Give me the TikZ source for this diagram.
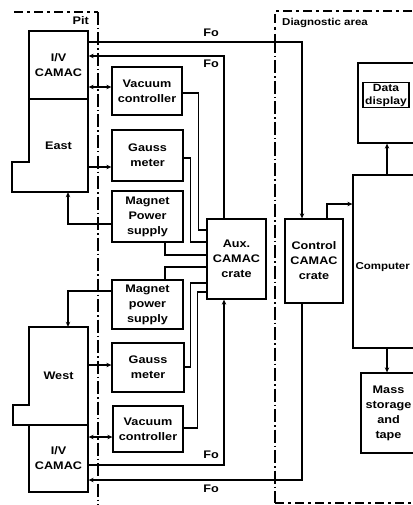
\documentclass[tikz,border=0pt]{standalone}
\usepackage{fontspec}
\newfontfamily\lblfont[FakeStretch=1.15]{Liberation Sans}
\usetikzlibrary{arrows.meta}
\tikzset{
  unit/.style={draw,line width=1.3pt,align=center,inner sep=1pt,
    font=\lblfont\bfseries\fontsize{11}{15}\selectfont},
  region/.style={align=center,inner sep=0pt,
    font=\lblfont\bfseries\fontsize{11}{15}\selectfont},
  outline/.style={line width=1.3pt,line join=miter},
  wire/.style={line width=1.2pt},
  flow/.style={wire,-{Stealth[length=5pt,width=4.5pt]}},
  both/.style={wire,{Stealth[length=5pt,width=4.5pt]}-{Stealth[length=5pt,width=4.5pt]}},
  fo/.style={font=\lblfont\bfseries\fontsize{11}{13}\selectfont,inner sep=0pt},
  wall/.style={line width=1.1pt,dash pattern=on 13pt off 3pt on 1.5pt off 3pt},
  border/.style={line width=1.1pt,dash pattern=on 9pt off 4pt on 3pt off 4pt}
}
\begin{document}
\begin{tikzpicture}[x=1pt,y=-1pt]
  \useasboundingbox (0,0) rectangle (412,505);

  % area boundaries
  \draw[border] (14,12) -- (98,12);
  \draw[wall] (98,12) -- (98,505);
  \node[fo,anchor=east] (pit) at (89,21) {Pit};
  \draw[border] (412,11) -- (275,11) -- (275,40);
  \draw[wall] (275,40) -- (275,503);
  \draw[border] (275,503) -- (412,503);
  \node[fo,anchor=west,font=\lblfont\bfseries\fontsize{10}{12}\selectfont] (diag) at (282,23) {Diagnostic area};

  % pit, east side
  \node[unit,minimum width=59pt,minimum height=68pt] (ivu) at (58.5,65) {I/V\\CAMAC};
  \draw[outline] (29,99) -- (29,162) -- (12,162) -- (12,192) -- (88,192) -- (88,99);
  \node[region,minimum width=59pt,minimum height=93pt] (east) at (58.5,145.5) {East};

  \node[unit,minimum width=70pt,minimum height=48pt] (vcu) at (147,91) {Vacuum\\controller};
  \node[unit,minimum width=71pt,minimum height=51pt] (gmu) at (147.5,155.5) {Gauss\\meter};
  \node[unit,minimum width=71pt,minimum height=51pt] (mpu) at (147.5,216.5) {Magnet\\Power\\supply};

  % pit, west side
  \node[unit,minimum width=71pt,minimum height=49pt] (mpl) at (147.5,304.5) {Magnet\\power\\supply};
  \node[unit,minimum width=72pt,minimum height=49pt] (gml) at (148,367.5) {Gauss\\meter};
  \node[unit,minimum width=70pt,minimum height=46pt] (vcl) at (148,429) {Vacuum\\controller};

  \draw[outline] (88,425) -- (88,327) -- (29,327) -- (29,405) -- (13,405) -- (13,425) -- cycle;
  \node[region,minimum width=59pt,minimum height=98pt] (west) at (58.5,376) {West};
  \node[unit,minimum width=59pt,minimum height=67pt] (ivl) at (58.5,458.5) {I/V\\CAMAC};

  \node[unit,minimum width=59pt,minimum height=80pt] (aux) at (236.5,259) {Aux.\\CAMAC\\crate};

  % diagnostic area
  \node[unit,minimum width=58pt,minimum height=84pt] (ctl) at (314,261) {Control\\CAMAC\\crate};
  \node[unit,minimum width=77pt,minimum height=173pt,
    label={[region,anchor=west,xshift=3pt,yshift=-6pt,font=\lblfont\bfseries\fontsize{10}{12}\selectfont]west:Computer}] (comp) at (391.5,261.5) {};
  \node[unit,minimum width=58pt,minimum height=80pt] (disp) at (387,103) {};
  \node[unit,minimum width=46pt,minimum height=24pt,line width=1.1pt,
    font=\lblfont\bfseries\fontsize{10.5}{13}\selectfont] (data) at (386,95) {Data\\display};
  \node[unit,minimum width=55pt,minimum height=80pt] (mass) at (388.5,413) {Mass\\storage\\and\\tape};

  % fibre optic links
  \draw[flow] (ivu.east |- 0,42) -| (ctl.north -| 302,0);
  \node[fo] (fo1) at (211,33) {Fo};
  \draw[flow] (aux.north -| 224,0) |- (ivu.east |- 0,56);
  \node[fo] (fo2) at (211,64) {Fo};
  \draw[flow] (ivl.east |- 0,465) -| (aux.south -| 224,0);
  \node[fo] (fo3) at (211,455) {Fo};
  \draw[flow] (ctl.south -| 302,0) |- (ivl.east |- 0,480);
  \node[fo] (fo4) at (211,489) {Fo};

  % east side wiring
  \draw[both] (ivu.east |- 0,87) -- (vcu.west |- 0,87);
  \draw[flow] (east.east |- 0,167) -- (gmu.west |- 0,167);
  \draw[flow] (mpu.west |- 0,224) -| (east.south -| 68,0);
  \draw[wire] (vcu.east |- 0,93) -- ++(16,0) |- (aux.west |- 0,230);
  \draw[wire] (gmu.east |- 0,158) -- ++(7,0) |- (aux.west |- 0,242);
  \draw[wire] (mpu.south -| 165,0) |- (aux.west |- 0,255);

  % west side wiring
  \draw[wire] (mpl.north -| 165,0) |- (aux.west |- 0,267);
  \draw[wire] (aux.west |- 0,283) -- ++(-16,0) |- (gml.east |- 0,367);
  \draw[wire] (aux.west |- 0,292) -- ++(-9,0) |- (vcl.east |- 0,428);
  \draw[flow] (mpl.west |- 0,291) -| (west.north -| 68,0);
  \draw[flow] (west.east |- 0,365) -- (gml.west |- 0,365);
  \draw[both] (ivl.east |- 0,437) -- (vcl.west |- 0,437);

  % computer links
  \draw[flow] (ctl.north -| 327,0) |- (comp.west |- 0,204);
  \draw[flow] (comp.north -| 387,0) -- (disp.south -| 387,0);
  \draw[flow] (comp.south -| 387,0) -- (mass.north -| 387,0);
\end{tikzpicture}
\end{document}
